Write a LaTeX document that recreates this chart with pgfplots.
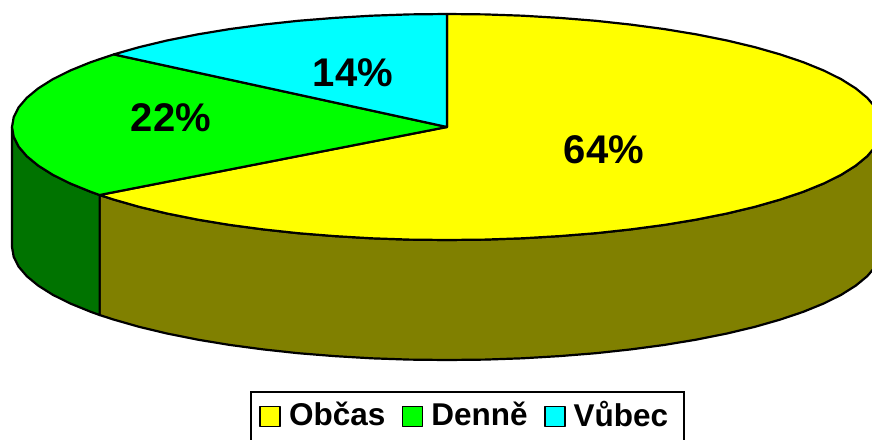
\documentclass[border=0pt]{standalone}
\usepackage{pgfplots}
\pgfplotsset{compat=1.18}
\usepackage{fontspec}
\setmainfont{Liberation Sans}
\definecolor{olv}{RGB}{128,128,0}
\definecolor{dgr}{RGB}{0,115,0}
\definecolor{yel}{RGB}{255,255,0}
\definecolor{grn}{RGB}{0,255,0}
\definecolor{cyn}{RGB}{0,255,255}
\begin{document}
\begin{tikzpicture}
\clip (0,0) rectangle (872pt,439pt);
\begin{axis}[
  at={(0,0)}, anchor=south west,
  scale only axis, width=872pt, height=439pt,
  xmin=0, xmax=872, ymin=0, ymax=439, y dir=reverse,
  hide axis, clip=true,
  every axis plot/.append style={draw=black, line width=2.2pt, line join=round, no markers},
  legend columns=3,
  legend style={at={(axis cs:250,391)}, anchor=north west, draw=black, line width=2.2pt,
    font=\bfseries\fontsize{31.5}{34}\selectfont, inner xsep=6pt, inner ysep=7pt,
    /tikz/every even column/.style={column sep=12pt},
    /tikz/every odd column/.style={column sep=6pt}},
  legend image code/.code={\draw[#1,line width=1.8pt] (2pt,-12pt) rectangle (22pt,8pt);\path (0pt,-28pt) -- (1pt,-28pt);},
]
% side walls
\addplot[fill=olv, forget plot] coordinates {
(882,127)(880.3,136.8)(875.4,146.6)(867.2,156.2)(855.8,165.6)(841.2,174.8)(823.7,183.5)(803.3,191.8)(780.2,199.6)(754.6,206.9)(726.6,213.6)(696.5,219.6)(664.5,224.9)(630.8,229.4)(595.8,233.2)(559.6,236.1)(522.5,238.3)(484.9,239.6)(447,240)(409.1,239.6)(371.5,238.3)(334.4,236.1)(298.2,233.2)(263.2,229.4)(229.5,224.9)(197.5,219.6)(167.4,213.6)(139.4,206.9)(113.8,199.6)(99.6,195)
(99.6,315)(113.8,319.6)(139.4,326.9)(167.4,333.6)(197.5,339.6)(229.5,344.9)(263.2,349.4)(298.2,353.2)(334.4,356.1)(371.5,358.3)(409.1,359.6)(447,360)(484.9,359.6)(522.5,358.3)(559.6,356.1)(595.8,353.2)(630.8,349.4)(664.5,344.9)(696.5,339.6)(726.6,333.6)(754.6,326.9)(780.2,319.6)(803.3,311.8)(823.7,303.5)(841.2,294.8)(855.8,285.6)(867.2,276.2)(875.4,266.6)(880.3,256.8)(882,247)
} --cycle;
\addplot[fill=dgr, forget plot] coordinates {
(99.6,195)(90.7,191.8)(70.3,183.5)(52.8,174.8)(38.2,165.6)(26.8,156.2)(18.6,146.6)(13.7,136.8)(12,127)
(12,247)(13.7,256.8)(18.6,266.6)(26.8,276.2)(38.2,285.6)(52.8,294.8)(70.3,303.5)(90.7,311.8)(99.6,315)
} --cycle;
% top faces
\addplot[fill=yel] coordinates {
(447,127)(447,14)(484.9,14.4)(522.5,15.7)(559.6,17.9)(595.8,20.8)(630.8,24.6)(664.5,29.1)(696.5,34.4)(726.6,40.4)(754.6,47.1)(780.2,54.4)(803.3,62.2)(823.7,70.5)(841.2,79.2)(855.8,88.4)(867.2,97.8)(875.4,107.4)(880.3,117.2)(882,127)
(880.3,136.8)(875.4,146.6)(867.2,156.2)(855.8,165.6)(841.2,174.8)(823.7,183.5)(803.3,191.8)(780.2,199.6)(754.6,206.9)(726.6,213.6)(696.5,219.6)(664.5,224.9)(630.8,229.4)(595.8,233.2)(559.6,236.1)(522.5,238.3)(484.9,239.6)(447,240)(409.1,239.6)(371.5,238.3)(334.4,236.1)(298.2,233.2)(263.2,229.4)(229.5,224.9)(197.5,219.6)(167.4,213.6)(139.4,206.9)(113.8,199.6)(99.6,195)
} --cycle;
\addlegendentry{Občas}
\addplot[fill=grn] coordinates {
(447,127)(99.6,195)(90.7,191.8)(70.3,183.5)(52.8,174.8)(38.2,165.6)(26.8,156.2)(18.6,146.6)(13.7,136.8)(12,127)(13.7,117.2)(18.6,107.4)(26.8,97.8)(38.2,88.4)(52.8,79.2)(70.3,70.5)(90.7,62.2)(113.8,54.4)
} --cycle;
\addlegendentry{Denně}
\addplot[fill=cyn] coordinates {
(447,127)(113.8,54.4)(139.4,47.1)(167.4,40.4)(197.5,34.4)(229.5,29.1)(263.2,24.6)(298.2,20.8)(334.4,17.9)(371.5,15.7)(409.1,14.4)(447,14)
} --cycle;
\addlegendentry{Vůbec\rule{8pt}{0pt}}
\node[font=\bfseries\fontsize{40}{44}\selectfont] at (axis cs:604,150) {64\%};
\node[font=\bfseries\fontsize{40}{44}\selectfont] at (axis cs:171,118) {22\%};
\node[font=\bfseries\fontsize{40}{44}\selectfont] at (axis cs:353,73) {14\%};
\end{axis}
\end{tikzpicture}
\end{document}
